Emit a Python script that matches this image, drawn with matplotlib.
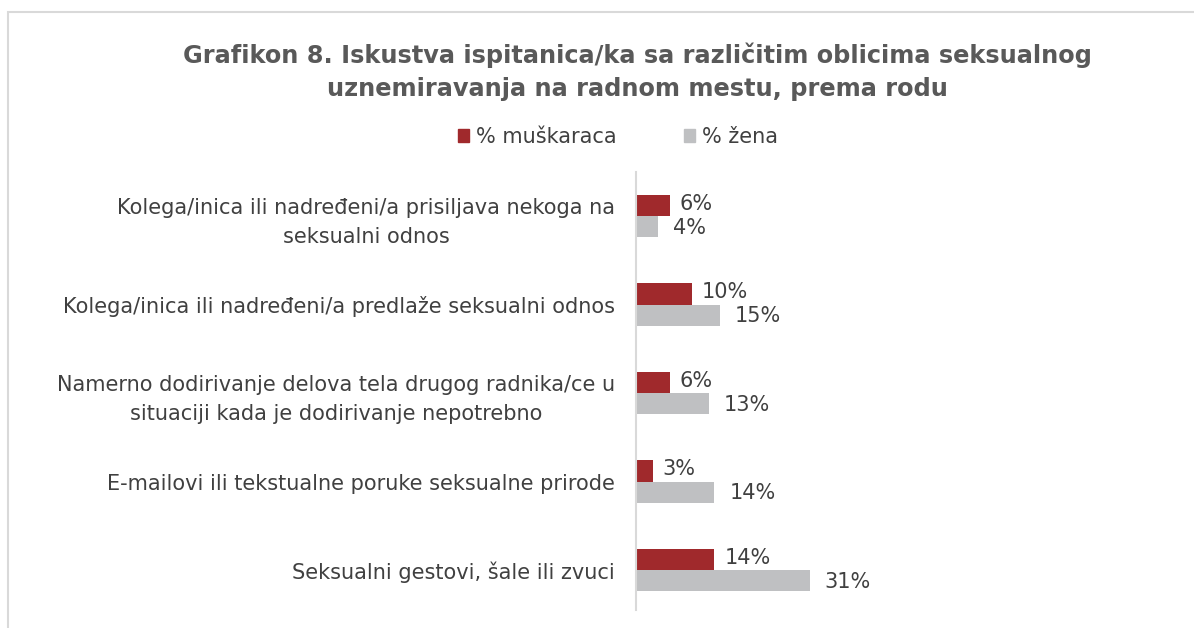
import matplotlib.pyplot as plt
from matplotlib.patches import Rectangle, Patch

categories = [
    "Kolega/inica ili nadređeni/a prisiljava nekoga na\nseksualni odnos",
    "Kolega/inica ili nadređeni/a predlaže seksualni odnos",
    "Namerno dodirivanje delova tela drugog radnika/ce u\nsituaciji kada je dodirivanje nepotrebno",
    "E-mailovi ili tekstualne poruke seksualne prirode",
    "Seksualni gestovi, šale ili zvuci",
]
muskarci = [6, 10, 6, 3, 14]
zene = [4, 15, 13, 14, 31]
series_names = ["% muškaraca", "% žena"]

red = "#A0292C"
gray = "#BFC0C2"
text_col = "#404040"

W, H = 1194, 628
fig = plt.figure(figsize=(W / 100, H / 100), dpi=100)

# frame of the chart (partly cropped in the reference)
fig.patches.append(Rectangle((8 / W, -0.2), 1.2, 1.2 - 12 / H, transform=fig.transFigure,
                             fill=False, edgecolor="#D9D9D9", linewidth=1.5))

# axes: x = 0 at pixel 636, 5.6 px per percent
x0 = 636
ax_w = 1150 - x0
ax = fig.add_axes([x0 / W, 1 - 610 / H, ax_w / W, (610 - 172) / H])
ax.set_xlim(0, ax_w / 5.6)
ax.set_ylim(4.45, -0.5)

pos = list(range(len(categories)))
h = 0.24
ax.barh([p - h / 2 for p in pos], muskarci, height=h, color=red, label=series_names[0])
ax.barh([p + h / 2 for p in pos], zene, height=h, color=gray, label=series_names[1])

for p, m, z in zip(pos, muskarci, zene):
    ax.annotate(f"{m}%", (m, p - h / 2), xytext=(10, 2), textcoords="offset pixels",
                va="center", ha="left", fontsize=15, color=text_col)
    ax.annotate(f"{z}%", (z, p + h / 2), xytext=(15, -1), textcoords="offset pixels",
                va="center", ha="left", fontsize=15, color=text_col)

ax.set_yticks(pos)
ax.set_yticklabels(categories, fontsize=15, color=text_col)
ax.tick_params(axis="y", length=0, pad=15)
ax.set_xticks([])
for s in ["top", "right", "bottom"]:
    ax.spines[s].set_visible(False)
ax.spines["left"].set_color("#D9D9D9")
ax.spines["left"].set_linewidth(1.5)
for lbl in ax.get_yticklabels():
    lbl.set_multialignment("center")
    lbl.set_linespacing(1.55)

fig.text(637 / W, 1 - 72 / H,
         "Grafikon 8. Iskustva ispitanica/ka sa različitim oblicima seksualnog\nuznemiravanja na radnom mestu, prema rodu",
         ha="center", va="center", fontsize=17.3, fontweight="bold", color="#595959",
         linespacing=1.45)

handles = [Patch(color=red), Patch(color=gray)]
fig.legend(handles, series_names, loc="center", bbox_to_anchor=(618 / W, 1 - 137 / H),
           ncol=2, frameon=False, fontsize=15, handlelength=0.55, handleheight=0.55,
           handletextpad=0.35, columnspacing=3.2, labelcolor=text_col)

fig.savefig("out.png", dpi=100)
